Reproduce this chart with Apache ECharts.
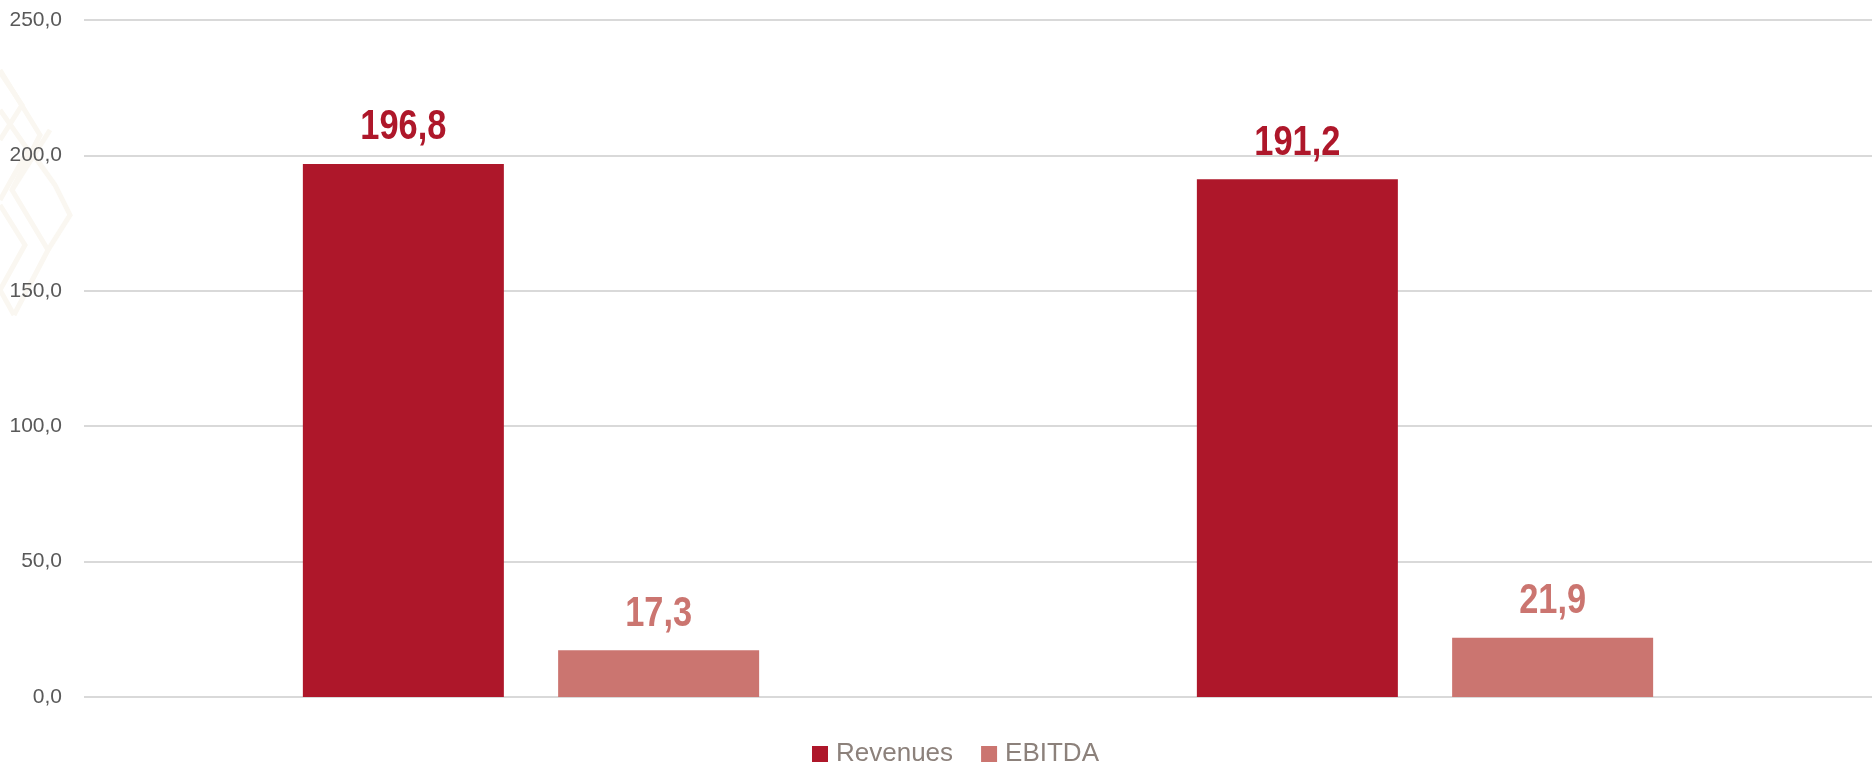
<!DOCTYPE html>
<html>
<head>
<meta charset="utf-8">
<script src="https://cdn.jsdelivr.net/npm/echarts@6/dist/echarts.min.js"></script>
<style>
  html, body { margin: 0; padding: 0; background: #ffffff; }
  #chart { width: 1874px; height: 766px; }
</style>
</head>
<body>
<div id="chart"></div>
<script>
// Data
const categories = ['2022', '2023'];
const revenues = [196.8, 191.2];
const ebitda = [17.3, 21.9];
const seriesNames = ['Revenues', 'EBITDA'];
const axisMin = 0;
const axisMax = 250;
const axisStep = 50;

const sans = "'Liberation Sans', Arial, sans-serif";
const fmt = v => v.toFixed(1).replace('.', ',');

const BAR_W = 201;
const GAP_RATIO = 0.27;
const barShift = (BAR_W + BAR_W * GAP_RATIO) / 2;

// bold condensed value label, placed above a bar
function valueLabel(color, side) {
  return function (params, api) {
    const idx = api.value(0);
    const val = api.value(1);
    const pt = api.coord([idx, val]);
    return {
      type: 'text',
      x: pt[0] + side * barShift,
      y: pt[1] - 15,
      scaleX: 0.8,
      style: {
        text: fmt(val),
        font: "bold 43px " + sans,
        fill: color,
        align: 'center',
        verticalAlign: 'bottom'
      }
    };
  };
}

const chart = echarts.init(document.getElementById('chart'), null, { renderer: 'canvas' });

// faint ornamental lattice at the left edge
const ornament = [
  [[0, 70], [40, 135], [12, 190], [48, 250], [14, 315]],
  [[0, 140], [22, 105], [0, 72]],
  [[0, 200], [28, 150], [0, 110]],
  [[12, 190], [50, 130]],
  [[48, 250], [70, 215], [55, 185], [30, 150]],
  [[0, 290], [25, 245], [0, 205]],
  [[14, 315], [0, 290]]
].map(pts => ({
  type: 'polyline',
  silent: true,
  z: -10,
  shape: { points: pts },
  style: { stroke: '#faf7f1', lineWidth: 5, fill: null }
}));

chart.setOption({
  animation: false,
  backgroundColor: '#ffffff',
  graphic: ornament,
  grid: { left: 84, right: 2, top: 20, bottom: 69, containLabel: false, outerBoundsMode: 'none' },
  legend: {
    data: seriesNames,
    top: 741,
    left: 812,
    padding: 0,
    icon: 'rect',
    itemWidth: 16,
    itemHeight: 16,
    itemGap: 28,
    textStyle: { fontFamily: sans, fontSize: 26, color: '#8c817b', padding: [0, 0, 0, 3] }
  },
  xAxis: {
    type: 'category',
    data: categories,
    axisLine: { show: false },
    axisTick: { show: false },
    axisLabel: { show: false }
  },
  yAxis: {
    type: 'value',
    min: axisMin,
    max: axisMax,
    interval: axisStep,
    axisLine: { show: false },
    axisTick: { show: false },
    splitLine: { lineStyle: { color: '#d9d9d9', width: 2 } },
    axisLabel: {
      formatter: fmt,
      fontFamily: sans,
      fontSize: 21,
      color: '#595959',
      margin: 22
    }
  },
  series: [
    {
      name: seriesNames[0],
      type: 'bar',
      data: revenues,
      barWidth: BAR_W,
      barGap: (GAP_RATIO * 100) + '%',
      itemStyle: { color: '#ae172a' }
    },
    {
      name: seriesNames[1],
      type: 'bar',
      data: ebitda,
      barWidth: BAR_W,
      itemStyle: { color: '#cb7570' }
    },
    {
      type: 'custom',
      silent: true,
      z: 5,
      data: revenues.map((v, i) => [i, v]),
      encode: { x: 0, y: 1 },
      renderItem: valueLabel('#ae172a', -1)
    },
    {
      type: 'custom',
      silent: true,
      z: 5,
      data: ebitda.map((v, i) => [i, v]),
      encode: { x: 0, y: 1 },
      renderItem: valueLabel('#cb7570', 1)
    }
  ]
});
</script>
</body>
</html>
